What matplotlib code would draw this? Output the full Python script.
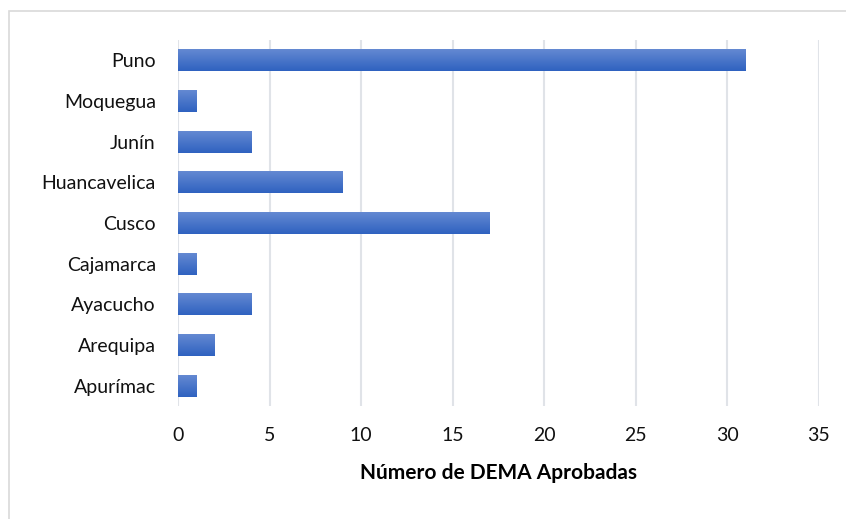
import matplotlib.pyplot as plt
import numpy as np
from matplotlib.patches import Rectangle
from matplotlib.colors import LinearSegmentedColormap

regiones = ["Apurímac", "Arequipa", "Ayacucho", "Cajamarca", "Cusco",
            "Huancavelica", "Junín", "Moquegua", "Puno"]
dema = [1, 2, 4, 1, 17, 9, 4, 1, 31]
xticks = [0, 5, 10, 15, 20, 25, 30, 35]

plt.rcParams['font.family'] = ['Lato', 'DejaVu Sans']

fig = plt.figure(figsize=(8.46, 5.19), dpi=100)
ax = fig.add_axes([0.2104, 0.218, 0.7576, 0.705])

# chart frame (right and bottom edges fall outside the picture)
fig.patches.append(Rectangle((9 / 846, -0.05), 1, 1.05 - 11 / 519, transform=fig.transFigure,
                             fill=False, edgecolor="#d9d9d9", linewidth=1.2))

grad = LinearSegmentedColormap.from_list("g", ["#2f62c0", "#6489d2"])
y = np.arange(len(regiones))
bars = ax.barh(y, dema, height=0.54, color="none", zorder=3)
img = np.linspace(0, 1, 64).reshape(-1, 1)
for b in bars:
    x0, y0 = b.get_x(), b.get_y()
    w, h = b.get_width(), b.get_height()
    im = ax.imshow(img, cmap=grad, aspect="auto", origin="lower",
                   extent=[x0, x0 + w, y0, y0 + h], zorder=3)
    im.set_clip_path(b)

ax.set_xlim(0, 35)
ax.set_ylim(-0.5, len(regiones) - 0.5)
ax.set_xticks(xticks)
ax.set_yticks(y)
ax.set_yticklabels(regiones)
ax.grid(axis="x", color="#e0e3e8", linewidth=1.5, zorder=0)
for s in ax.spines.values():
    s.set_visible(False)
ax.tick_params(length=0, labelsize=14, colors="#111111")
ax.tick_params(axis="x", pad=15)
ax.tick_params(axis="y", pad=16)
ax.set_xlabel("Número de DEMA Aprobadas", fontsize=15, fontweight="bold", labelpad=14)

fig.savefig("out.png", dpi=100)
